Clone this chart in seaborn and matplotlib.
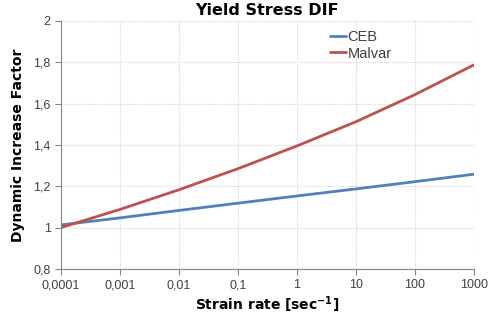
import numpy as np
import pandas as pd
import seaborn as sns
import matplotlib
matplotlib.use("Agg")
import matplotlib.pyplot as plt
from matplotlib.ticker import FixedLocator, FixedFormatter, NullLocator

# strain rates (1/s) and read-off DIF values
strain_rate = [0.0001, 0.001, 0.01, 0.1, 1, 10, 100, 1000]
ceb = [1.013, 1.047, 1.083, 1.118, 1.153, 1.187, 1.222, 1.258]
malvar = [1.000, 1.088, 1.183, 1.285, 1.395, 1.512, 1.643, 1.787]

x_labels = ["0,0001", "0,001", "0,01", "0,1", "1", "10", "100", "1000"]
y_ticks = [0.8, 1.0, 1.2, 1.4, 1.6, 1.8, 2.0]
y_labels = ["0,8", "1", "1,2", "1,4", "1,6", "1,8", "2"]

df = pd.DataFrame({
    "rate": strain_rate * 2,
    "dif": ceb + malvar,
    "model": ["CEB"] * len(ceb) + ["Malvar"] * len(malvar),
})

sns.set_style("white")
plt.rcParams["font.family"] = ["Liberation Sans", "DejaVu Sans"]

fig = plt.figure(figsize=(4.89, 3.16), dpi=100)
ax = fig.add_axes([0.125, 0.149, 0.844, 0.785])

sns.lineplot(data=df, x="rate", y="dif", hue="model",
             palette={"CEB": "#4F81BD", "Malvar": "#C0504D"},
             linewidth=2, ax=ax)

ax.set_xscale("log")
ax.set_xlim(0.0001, 1000)
ax.set_ylim(0.8, 2.0)
ax.xaxis.set_major_locator(FixedLocator(strain_rate))
ax.xaxis.set_major_formatter(FixedFormatter(x_labels))
ax.xaxis.set_minor_locator(NullLocator())
ax.yaxis.set_major_locator(FixedLocator(y_ticks))
ax.yaxis.set_major_formatter(FixedFormatter(y_labels))

ax.grid(True, color="#D9D9D9", linestyle=(0, (1, 1)), linewidth=0.8)
for s in ["top", "right"]:
    ax.spines[s].set_visible(False)
for s in ["left", "bottom"]:
    ax.spines[s].set_color("#868686")
    ax.spines[s].set_linewidth(0.8)
ax.tick_params(axis="both", which="major", length=4, width=0.8, color="#868686",
               labelsize=9, labelcolor="#404040", direction="out",
               bottom=True, left=True)

ax.set_title("Yield Stress DIF", fontsize=11.5, fontweight="bold",
             family="DejaVu Sans", color="black", pad=4)
ax.set_xlabel("Strain rate [sec$^{\\mathbf{-1}}$]", fontsize=10, fontweight="bold",
              family="DejaVu Sans", color="black", labelpad=2)
ax.set_ylabel("Dynamic Increase Factor", fontsize=10, fontweight="bold",
              family="DejaVu Sans", color="black", labelpad=6)

leg = ax.legend(loc="upper left", bbox_to_anchor=(0.63, 1.0), frameon=False,
                fontsize=10.5, handlelength=1.1, handletextpad=0.1,
                labelspacing=0.2, borderaxespad=0.2)
for t in leg.get_texts():
    t.set_color("#404040")

fig.savefig("out.png", dpi=100)
